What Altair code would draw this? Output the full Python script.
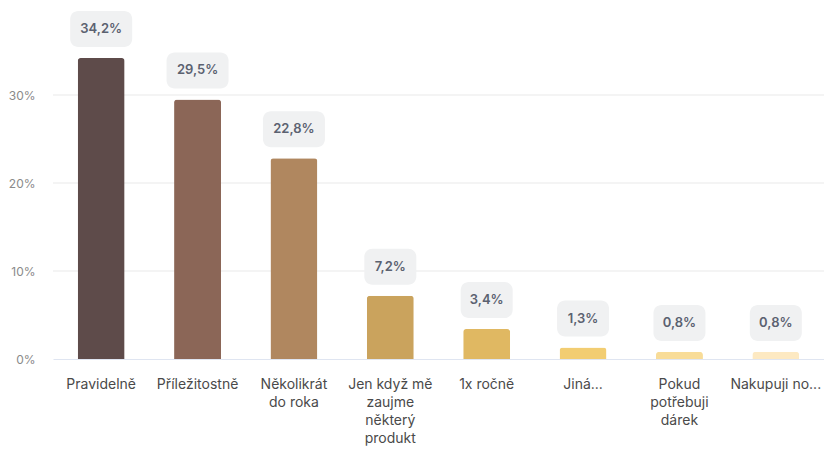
import altair as alt
import pandas as pd

categories = [
    "Pravidelně",
    "Příležitostně",
    "Několikrát|do roka",
    "Jen když mě|zaujme|některý|produkt",
    "1x ročně",
    "Jiná...",
    "Pokud|potřebuji|dárek",
    "Nakupuji no...",
]
values = [34.2, 29.5, 22.8, 7.2, 3.4, 1.3, 0.8, 0.8]
colors = ["#5e4b4a", "#8b6657", "#b0875f", "#caa35d", "#e0b862", "#f2cd72", "#f8dc98", "#fde9c2"]
y_ticks = [0, 10, 20, 30]

df = pd.DataFrame({"cat": categories, "value": values, "color": colors})
grid_df = pd.DataFrame({"value": y_ticks[1:]})

FONT = "Inter"

y_scale = alt.Scale(domain=[0, 40], nice=False)

x_enc = alt.X(
    "cat:N",
    sort=categories,
    scale=alt.Scale(paddingInner=0.51, paddingOuter=0.255),
    axis=alt.Axis(
        title=None,
        labelAngle=0,
        labelExpr="split(datum.label, '|')",
        labelLineHeight=18,
        labelFontSize=14,
        labelColor="#4a4a4a",
        labelFont=FONT,
        labelPadding=18,
        labelBaseline="top",
        ticks=False,
        domain=True,
        domainColor="#dfe5f1",
        labelLimit=200,
        grid=False,
    ),
)

y_enc = alt.Y(
    "value:Q",
    scale=y_scale,
    axis=alt.Axis(
        title=None,
        values=y_ticks,
        labelExpr="datum.value + '%'",
        labelFontSize=12,
        labelColor="#8a8a8a",
        labelFont=FONT,
        labelPadding=18,
        ticks=False,
        domain=False,
        grid=False,
    ),
)

gridlines = alt.Chart(grid_df).mark_rule(color="#e9e9e9", strokeWidth=1).encode(
    y=y_enc,
)

base = alt.Chart(df).transform_calculate(
    label="replace(format(datum.value, '.1f'), '.', ',') + '%'",
    boxw="length(datum.label) * 10 + 12",
).encode(x=x_enc, y=y_enc)

bars = base.mark_bar(size=47, cornerRadiusTopLeft=3, cornerRadiusTopRight=3).encode(
    color=alt.Color("color:N", scale=None),
)

boxes = base.mark_bar(
    color="#f0f1f2", cornerRadius=8, yOffset=-47, y2Offset=-11
).encode(
    y2=alt.Y2("value:Q"),
    size=alt.Size("boxw:Q", scale=None, legend=None),
)

texts = base.mark_text(
    dy=-29, fontSize=13, fontWeight=600, color="#5b6170", font=FONT, baseline="middle"
).encode(
    text="label:N",
)

chart = (
    alt.layer(gridlines, bars, boxes, texts, view=alt.ViewBackground(strokeOpacity=0, strokeWidth=0))
    .properties(
        width=771,
        height=352,
        autosize=alt.AutoSizeParams(type="none"),
        padding={"left": 53, "top": 7, "right": 0, "bottom": 92},
    )
    .configure_view(strokeWidth=0, strokeOpacity=0)
    .configure_axis(domain=False, grid=False)
    .configure_axisX(domain=True, domainColor="#dfe5f1")
    .configure(background="white", font=FONT)
)

chart.save("out.html", embed_options={"renderer": "svg", "actions": False})
